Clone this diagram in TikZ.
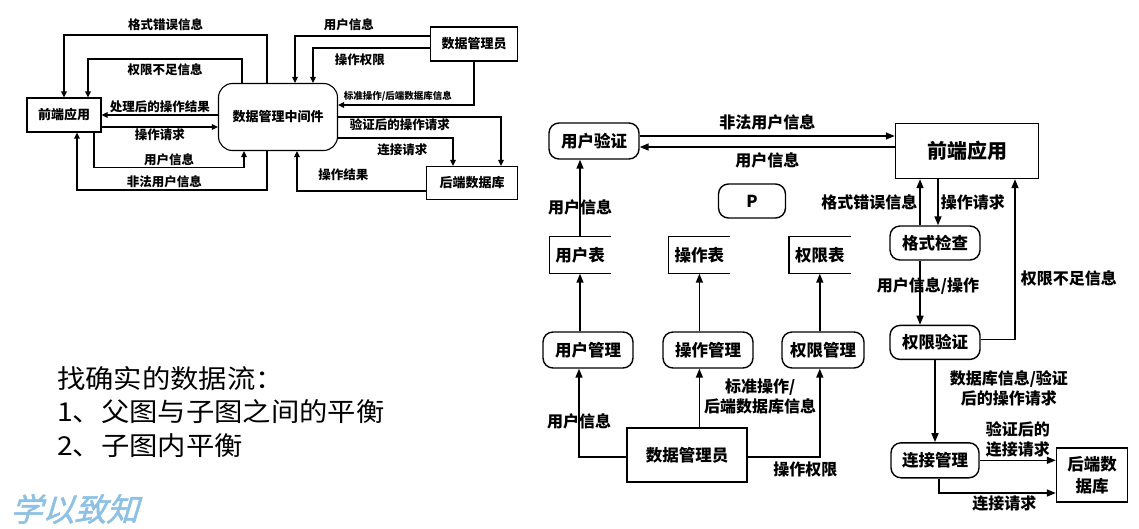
\documentclass[tikz,border=0pt]{standalone}
\usepackage{fontspec}
\setmainfont{Noto Sans CJK SC}
\newfontfamily\wmfont[FakeSlant=0.3,FakeBold=1.5]{Noto Sans CJK SC}
\newfontfamily\notefont[FakeStretch=1.09]{Noto Sans CJK SC}
\usepackage{tikz}
\usetikzlibrary{arrows.meta,positioning,calc}
\usepackage{xcolor}
\definecolor{wmblue}{RGB}{140,192,228}

\begin{document}
\begin{tikzpicture}[x=1pt, y=-1pt,
    lbox/.style={draw, line width=1.1pt, minimum width=74pt, minimum height=34pt,
                 inner sep=0pt, font=\bfseries\fontsize{13}{15}\selectfont},
    lproc/.style={draw, line width=1.1pt, rounded corners=14pt, minimum width=119pt,
                  minimum height=67pt, inner sep=0pt, font=\bfseries\fontsize{13}{15}\selectfont},
    lflow/.style={line width=1.2pt, -{Triangle[length=6pt,width=5.5pt]}},
    ltxt/.style={inner sep=1.5pt, font=\bfseries\fontsize{12.5}{14}\selectfont},
    rbox/.style={draw, line width=1.4pt, minimum width=89pt, minimum height=36pt,
                 inner sep=0pt, align=center, font=\bfseries\fontsize{16.5}{22}\selectfont},
    rproc/.style={draw, line width=1.4pt, rounded corners=10pt, minimum width=90pt,
                  minimum height=36pt, inner sep=0pt, font=\bfseries\fontsize{16.5}{20}\selectfont},
    rstore/.style={minimum width=61pt, minimum height=37pt, inner sep=0pt,
                   font=\bfseries\fontsize{16.5}{20}\selectfont},
    rline/.style={line width=1.4pt},
    rflow/.style={line width=1.5pt, -{Triangle[length=9pt,width=7pt]}},
    rtxt/.style={inner sep=2pt, align=center, font=\bfseries\fontsize{16}{20}\selectfont}]
\useasboundingbox (0,0) rectangle (1139,528);

% ---- parent diagram (top left)
\node[lproc] (mw1) at (278,117) {数据管理中间件};
\node[lbox] (fe1) at (64,115) {前端应用};
\node[lbox, minimum width=87pt] (dba1) at (474,44) {数据管理员};
\node[lbox, minimum width=91pt, minimum height=33pt] (be1) at (472,183) {后端数据库};

\draw[lflow] ([xshift=-11pt]mw1.north) -- ++(0,-48) -| node[ltxt, pos=0.25, above=2pt] {格式错误信息} (fe1.north);
\draw[lflow] ([xshift=-36pt]mw1.north) -- ++(0,-24) -| node[ltxt, pos=0.25, below=3pt] {权限不足信息} ([xshift=24pt]fe1.north);
\draw[lflow] ([yshift=2pt]mw1.west) -- node[ltxt, above] {处理后的操作结果} ([yshift=2pt]mw1.west -| fe1.east);
\draw[lflow] ([yshift=-12pt]fe1.east) -- node[ltxt, below] {操作请求} ([yshift=-12pt]fe1.east -| mw1.west);
\draw[lflow] ([xshift=30pt]fe1.south) -- ++(0,35) -| node[ltxt, pos=0.25, above] {用户信息} ([xshift=-34pt]mw1.south);
\draw[lflow] ([xshift=-11pt]mw1.south) -- ++(0,39) -| node[ltxt, pos=0.27, above] {非法用户信息} ([xshift=13pt]fe1.south);

\draw[lflow] ([yshift=8pt]dba1.west) -| node[ltxt, pos=0.3, above=3pt] {用户信息} ([xshift=17pt]mw1.north);
\draw[lflow] ([yshift=-4pt]dba1.west) -| node[ltxt, pos=0.3, below=4pt] {操作权限} ([xshift=35pt]mw1.north);
\draw[lflow] (dba1.south) |- node[ltxt, pos=0.78, above=2pt, font=\bfseries\fontsize{9.5}{11}\selectfont] {标准操作/后端数据库信息} ([yshift=12pt]mw1.east);
\draw[lflow] (mw1.east) -| node[ltxt, pos=0.19, below] {验证后的操作请求} ([xshift=29pt]be1.north);
\draw[lflow] ([yshift=-21pt]mw1.east) -| node[ltxt, pos=0.28, below=4pt] {连接请求} ([xshift=-19pt]be1.north);
\draw[lflow] ([yshift=-8pt]be1.west) -| node[ltxt, pos=0.32, above=8pt] {操作结果} ([xshift=19pt]mw1.south);

% ---- notes
\node[anchor=west, align=left, inner sep=0pt, font=\notefont\fontsize{26}{33.5}\selectfont] (note) at (57,412)
    {找确实的数据流：\\1、父图与子图之间的平衡\\2、子图内平衡};
\node[anchor=west, inner sep=0pt, text=wmblue, font=\wmfont\fontsize{32}{32}\selectfont] (wm) at (10,509) {学以致知};

% ---- child diagram (right)
\node[rproc] (uv) at (594,141) {用户验证};
\node[rbox, minimum width=143pt, minimum height=55pt, font=\bfseries\fontsize{20}{24}\selectfont] (fe2) at (967,151) {前端应用};
\node[rproc, minimum width=67pt, minimum height=34pt] (p) at (752,201) {P};

\node[rstore] (ut) at (580,255) {用户表};
\node[rstore, right=58pt of ut] (ot) {操作表};
\node[rstore, right=59pt of ot] (qt) {权限表};
\foreach \s in {ut,ot,qt}
    \draw[rline] (\s.north east) -- (\s.north west) -- (\s.south west) -- (\s.south east);

\node[rproc] (um) at (588,350) {用户管理};
\node[rproc] (om) at (708,350) {操作管理};
\node[rproc, minimum width=82pt] (qm) at (823,350) {权限管理};
\node[rbox, minimum width=120pt, minimum height=54pt] (dba2) at (687,455) {数据管理员};

\node[rproc, minimum height=34pt] (fc) at (935,243) {格式检查};
\node[rproc, minimum height=34pt, below=64pt of fc] (pv) {权限验证};
\node[rproc, minimum width=88pt, minimum height=35pt, below=82pt of pv] (cm) {连接管理};
\node[rbox, minimum width=71pt, minimum height=54pt] (be2) at (1092,475) {后端数\\据库};

\draw[rflow] ([yshift=5pt]uv.east) -- node[rtxt, above=3pt] {非法用户信息} ([yshift=5pt]uv.east -| fe2.west);
\draw[rflow] ([yshift=-6pt]uv.east -| fe2.west) -- node[rtxt, below=3pt] {用户信息} ([yshift=-6pt]uv.east);
\draw[rflow] (ut.north) -- node[rtxt, pos=0.38] {用户信息} (ut.north |- uv.south);

\draw[rflow] (ut.south |- um.north) -- (ut.south);
\draw[rflow] (ot.south |- om.north) -- (ot.south);
\draw[rflow] (qt.south |- qm.north) -- (qt.south);

\draw[rflow] ([yshift=-2pt]dba2.west) -| node[rtxt, pos=0.7] {用户信息} ([xshift=-9pt]um.south);
\draw[rflow] (ot.south |- dba2.north) -- node[rtxt, pos=0.53, right=2pt] {标准操作/\\后端数据库信息} (ot.south |- om.south);
\draw[rflow] ([yshift=-2pt]dba2.east) -| node[rtxt, pos=0.4, below=2pt] {操作权限} (qt.south |- qm.south);

\draw[rflow] ([xshift=-15pt]fc.north) -- node[rtxt, left] {格式错误信息} ([xshift=-15pt]fc.north |- fe2.south);
\draw[rflow] ([xshift=3pt]fc.north |- fe2.south) -- node[rtxt, right] {操作请求} ([xshift=3pt]fc.north);
\draw[rflow] ([xshift=-15pt]fc.south) -- node[rtxt, pos=0.4, xshift=8pt] {用户信息/操作} ([xshift=-15pt]fc.south |- pv.north);
\draw[rflow] ([yshift=3pt]pv.east) -| node[rtxt, pos=0.69, right=3pt] {权限不足信息} ([xshift=48pt]fe2.south);
\draw[rflow] (pv.south) -- node[rtxt, pos=0.35, right=12pt] {数据库信息/验证\\后的操作请求} (pv.south |- cm.north);
\draw[rflow] (cm.east) -- node[rtxt, above] {验证后的\\连接请求} (cm.east -| be2.west);
\draw[rflow] ([xshift=4pt]cm.south) |- node[rtxt, pos=0.78, below] {连接请求} ([yshift=-18pt]be2.west);
\end{tikzpicture}
\end{document}
